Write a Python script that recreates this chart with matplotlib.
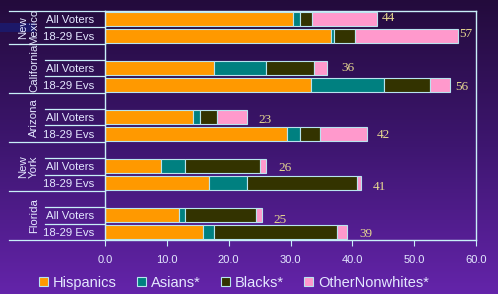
import numpy as np
import matplotlib
matplotlib.use('Agg')
import matplotlib.pyplot as plt
import matplotlib.transforms as mtransforms
from matplotlib.patches import Rectangle

# data (top to bottom in the picture)
states = ['New\nMexico', 'California', 'Arizona', 'New\nYork', 'Florida']
groups = ['All Voters', '18-29 Evs']
series = ['Hispanics', 'Asians*', 'Blacks*', 'OtherNonwhites*']
# per state: [All Voters, 18-29 Evs]
hispanics = [[30.4, 36.6], [17.7, 33.3], [14.3, 29.4], [9.1, 16.8], [11.9, 15.9]]
asians = [[1.1, 0.4], [8.4, 11.8], [1.1, 2.2], [3.8, 6.1], [1.0, 1.7]]
blacks = [[2.0, 3.4], [7.7, 7.4], [2.7, 3.1], [12.2, 17.8], [11.5, 20.0]]
others = [[10.5, 16.7], [2.1, 3.3], [4.8, 7.6], [0.9, 0.7], [1.0, 1.5]]
totals = [[44, 57], [36, 56], [23, 42], [26, 41], [25, 39]]

colors = ['#FF9900', '#008080', '#333300', '#FF99CC']
txt = '#E4E8FF'
line_c = '#C8F0F8'
lab_c = '#E6D890'
plt.rcParams['font.family'] = ['Liberation Sans', 'DejaVu Sans']

fig = plt.figure(figsize=(4.98, 2.94), dpi=100)

# purple gradient background
bg = fig.add_axes([0, 0, 1, 1], zorder=-10)
grad = np.linspace(0, 1, 256).reshape(-1, 1)
cmap = matplotlib.colors.LinearSegmentedColormap.from_list('bg', ['#230b3c', '#3e1670', '#6424aa'])
bg.imshow(grad, aspect='auto', cmap=cmap, extent=[0, 1, 0, 1], origin='upper')
bg.add_patch(Rectangle((0, 1 - 32 / 294), 35 / 498, 9 / 294, color='#1c1868', lw=0))
bg.set_xlim(0, 1)
bg.set_ylim(0, 1)
bg.axis('off')

ax = fig.add_axes([105 / 498, 54 / 294, 371 / 498, 229 / 294])
ax.set_facecolor('none')

# slot positions, bottom = 0; each state gets 18-29, All Voters, blank (top state no blank)
n = len(states)
ypos = []
for i in range(n):
    base = (n - 1 - i) * 3
    ypos.append([base + 1, base])  # All Voters, 18-29

h = 0.86
for s in range(n):
    for g in range(2):
        left = 0
        vals = [hispanics[s][g], asians[s][g], blacks[s][g], others[s][g]]
        for k, v in enumerate(vals):
            ax.barh(ypos[s][g], v, left=left, height=h, color=colors[k],
                    edgecolor='#B8E4EE', linewidth=0.8,
                    label=series[k] if (s == 0 and g == 0) else None)
            left += v

# total labels (offsets in pixels, right / down)
offs = [[(5, -1.5), (1.5, -1.5)], [(14, 0), (5, 2)], [(12, 2.5), (10, 1)],
        [(13, 1.5), (12, 4)], [(11, 4.5), (13, 2)]]
for s in range(n):
    for g in range(2):
        end = hispanics[s][g] + asians[s][g] + blacks[s][g] + others[s][g]
        dx, dy = offs[s][g]
        ax.annotate(str(totals[s][g]), (end, ypos[s][g]),
                    xytext=(dx * 0.72, -dy * 0.72), textcoords='offset points',
                    ha='left', va='center', color=lab_c, fontsize=9.5,
                    family='Liberation Serif')

ax.set_xlim(0, 60)
ax.set_ylim(-0.5, 3 * n - 1.5)
ax.set_xticks(np.arange(0, 61, 10))
ax.set_xticklabels(['%.1f' % v for v in np.arange(0, 61, 10)])
ax.tick_params(axis='x', colors=line_c, labelcolor=txt, labelsize=8,
               length=4, width=0.8, pad=7)

yt = [y for pair in ypos for y in pair]
ax.set_yticks(yt)
ax.set_yticklabels(groups * n)
ax.tick_params(axis='y', length=0, labelcolor=txt, labelsize=8.2, pad=8)

for sp in ax.spines.values():
    sp.set_color(line_c)
    sp.set_linewidth(1.0)

# category separators on the left
tr = mtransforms.blended_transform_factory(ax.transAxes, ax.transData)
top = 3 * n - 1.5
for i in range(n):
    base = (n - 1 - i) * 3
    ax.plot([-0.162, 0], [base + 0.5] * 2, color=line_c, lw=0.9, transform=tr, clip_on=False)
    if i > 0:
        ax.plot([-0.162, 0], [base + 1.5] * 2, color=line_c, lw=0.9, transform=tr, clip_on=False)
    ax.plot([-0.259, 0], [base - 0.5] * 2, color=line_c, lw=0.9, transform=tr, clip_on=False)
    upper = top if i == 0 else base + 2.5
    ax.text(-0.178, (base - 0.5 + upper) / 2, states[i], transform=tr, rotation=90,
            ha='right', va='center', color=txt, fontsize=8.2, linespacing=1.1,
            multialignment='center')
ax.plot([-0.259, 0], [top] * 2, color=line_c, lw=0.9, transform=tr, clip_on=False)

leg = fig.legend(loc='center', bbox_to_anchor=(234 / 498, 1 - 283 / 294), ncol=4,
                 frameon=False, fontsize=10.5, handlelength=0.6, handleheight=0.6,
                 handletextpad=0.35, columnspacing=1.4, borderaxespad=0)
for t in leg.get_texts():
    t.set_color(txt)

fig.savefig('out.png', dpi=100)
